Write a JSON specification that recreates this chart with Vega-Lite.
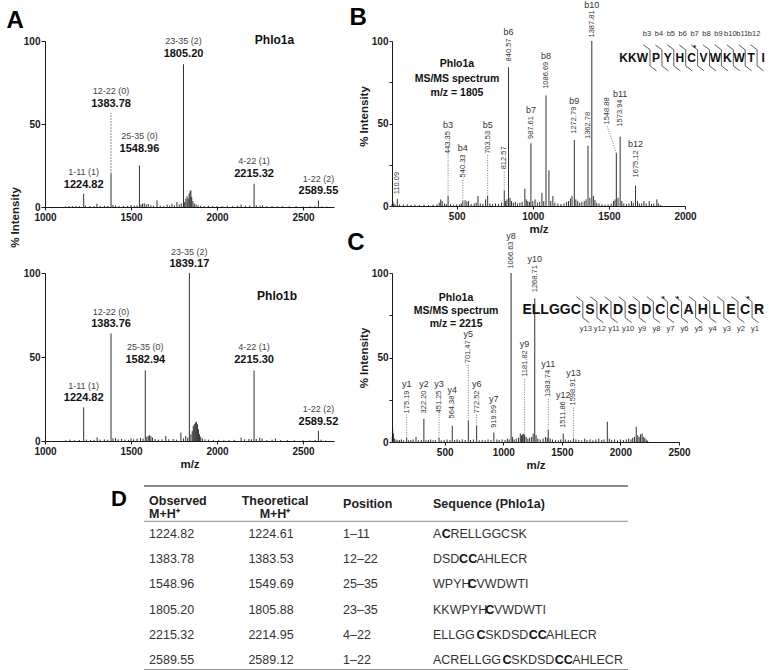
{
"$schema":"https://vega.github.io/schema/vega-lite/v6.json",
"padding":{"left":6,"top":0,"right":0,"bottom":0},
"background":"white",
"config":{
 "font":"Liberation Sans",
 "view":{"stroke":null},
 "axis":{"grid":false,"labelFontWeight":"bold","labelFontSize":10,"labelColor":"#1a1a1a","titleFontWeight":"bold","titleFontSize":11.5,"titleColor":"#1a1a1a","domainColor":"#1a1a1a","tickColor":"#1a1a1a","domainWidth":1,"labelPadding":2},
 "axisX":{"tickSize":3,"labelFlush":false,"titlePadding":2},
 "axisY":{"tickSize":4,"labelPadding":1}
},
"datasets":{
 "a1":[{"mz":1120,"i":0.4},{"mz":1140,"i":0.6},{"mz":1160,"i":0.5},{"mz":1180,"i":0.7},{"mz":1200,"i":0.5},{"mz":1224.82,"i":8},{"mz":1235,"i":0.8},{"mz":1260,"i":0.6},{"mz":1285,"i":0.5},{"mz":1302,"i":2},{"mz":1320,"i":0.6},{"mz":1345,"i":0.8},{"mz":1365,"i":0.7},{"mz":1383.78,"i":20},{"mz":1395,"i":1.2},{"mz":1410,"i":0.8},{"mz":1430,"i":0.6},{"mz":1455,"i":0.7},{"mz":1480,"i":0.6},{"mz":1500,"i":1.2},{"mz":1520,"i":0.8},{"mz":1535,"i":1},{"mz":1548.96,"i":25},{"mz":1558,"i":1.5},{"mz":1567,"i":2},{"mz":1577,"i":2.2},{"mz":1588,"i":1.5},{"mz":1600,"i":1.8},{"mz":1615,"i":1},{"mz":1630,"i":0.8},{"mz":1651,"i":4},{"mz":1670,"i":0.8},{"mz":1690,"i":0.6},{"mz":1710,"i":1.4},{"mz":1725,"i":0.8},{"mz":1738,"i":2},{"mz":1752,"i":1},{"mz":1767,"i":3},{"mz":1780,"i":1.5},{"mz":1792,"i":2.2},{"mz":1805.2,"i":86},{"mz":1812,"i":3},{"mz":1819,"i":5},{"mz":1826,"i":6.5},{"mz":1832,"i":5},{"mz":1838,"i":8},{"mz":1843,"i":9.5},{"mz":1848,"i":10},{"mz":1853,"i":6},{"mz":1860,"i":3.5},{"mz":1868,"i":2},{"mz":1878,"i":1.5},{"mz":1890,"i":1},{"mz":1905,"i":0.8},{"mz":1925,"i":0.6},{"mz":1950,"i":0.7},{"mz":1975,"i":0.5},{"mz":2000,"i":0.6},{"mz":2030,"i":0.5},{"mz":2060,"i":0.7},{"mz":2090,"i":0.5},{"mz":2120,"i":0.8},{"mz":2140,"i":1.5},{"mz":2165,"i":0.7},{"mz":2190,"i":0.9},{"mz":2215.32,"i":14},{"mz":2228,"i":1},{"mz":2250,"i":0.8},{"mz":2265,"i":1},{"mz":2290,"i":0.5},{"mz":2320,"i":0.6},{"mz":2350,"i":0.4},{"mz":2380,"i":0.5},{"mz":2420,"i":0.4},{"mz":2460,"i":0.5},{"mz":2500,"i":0.4},{"mz":2540,"i":0.4},{"mz":2570,"i":0.5},{"mz":2589.55,"i":4},{"mz":2610,"i":0.4},{"mz":2640,"i":0.3}],
 "a1l":[{"mz":1224.82,"i":8,"ly":8,"m":"1224.82","name":"1-11 (1)"},{"mz":1383.78,"i":20,"ly":56.7,"m":"1383.78","name":"12-22 (0)"},{"mz":1548.96,"i":25,"ly":29.6,"m":"1548.96","name":"25-35 (0)"},{"mz":1805.2,"i":86,"ly":86.9,"m":"1805.20","name":"23-35 (2)"},{"mz":2215.32,"i":14,"ly":14.6,"m":"2215.32","name":"4-22 (1)"},{"mz":2589.55,"i":4,"ly":4,"m":"2589.55","name":"1-22 (2)"}],
 "a2":[{"mz":1120,"i":0.4},{"mz":1145,"i":0.8},{"mz":1170,"i":0.5},{"mz":1200,"i":0.6},{"mz":1224.82,"i":20},{"mz":1240,"i":0.8},{"mz":1265,"i":0.6},{"mz":1285,"i":0.7},{"mz":1303,"i":2.2},{"mz":1320,"i":0.8},{"mz":1345,"i":1},{"mz":1365,"i":0.8},{"mz":1383.76,"i":64},{"mz":1395,"i":1.5},{"mz":1410,"i":1.8},{"mz":1425,"i":1},{"mz":1445,"i":1.2},{"mz":1465,"i":0.8},{"mz":1485,"i":0.7},{"mz":1500,"i":1.5},{"mz":1515,"i":1},{"mz":1535,"i":1.4},{"mz":1555,"i":1.8},{"mz":1570,"i":1.5},{"mz":1582.94,"i":42},{"mz":1592,"i":2.5},{"mz":1600,"i":3},{"mz":1608,"i":3.5},{"mz":1616,"i":2.8},{"mz":1625,"i":2},{"mz":1640,"i":1.2},{"mz":1660,"i":0.8},{"mz":1680,"i":1},{"mz":1702,"i":3},{"mz":1720,"i":1},{"mz":1745,"i":1.2},{"mz":1765,"i":0.8},{"mz":1790,"i":5},{"mz":1805,"i":1.5},{"mz":1818,"i":3},{"mz":1830,"i":2},{"mz":1839.17,"i":100},{"mz":1848,"i":4},{"mz":1856,"i":6},{"mz":1862,"i":9},{"mz":1868,"i":10},{"mz":1874,"i":11},{"mz":1880,"i":11.5},{"mz":1886,"i":10},{"mz":1892,"i":7},{"mz":1898,"i":4},{"mz":1905,"i":2.5},{"mz":1915,"i":1.5},{"mz":1930,"i":1},{"mz":1950,"i":0.8},{"mz":1980,"i":0.6},{"mz":2010,"i":0.7},{"mz":2040,"i":0.5},{"mz":2070,"i":0.6},{"mz":2100,"i":0.7},{"mz":2140,"i":2},{"mz":2160,"i":1},{"mz":2185,"i":1.2},{"mz":2200,"i":1},{"mz":2215.3,"i":42},{"mz":2228,"i":1.2},{"mz":2248,"i":2},{"mz":2262,"i":1.5},{"mz":2290,"i":0.6},{"mz":2320,"i":0.8},{"mz":2340,"i":1.5},{"mz":2370,"i":0.5},{"mz":2410,"i":0.5},{"mz":2450,"i":0.4},{"mz":2500,"i":0.5},{"mz":2540,"i":0.4},{"mz":2570,"i":0.6},{"mz":2589.52,"i":6},{"mz":2605,"i":0.8},{"mz":2630,"i":0.3}],
 "a2l":[{"mz":1224.82,"i":20,"ly":20,"m":"1224.82","name":"1-11 (1)"},{"mz":1383.76,"i":64,"ly":64,"m":"1383.76","name":"12-22 (0)"},{"mz":1582.94,"i":42,"ly":43,"m":"1582.94","name":"25-35 (0)"},{"mz":1839.17,"i":100,"ly":100,"m":"1839.17","name":"23-35 (2)"},{"mz":2215.3,"i":42,"ly":43,"m":"2215.30","name":"4-22 (1)"},{"mz":2589.52,"i":6,"ly":6,"m":"2589.52","name":"1-22 (2)"}],
 "b":[{"mz":75,"i":1},{"mz":80,"i":3},{"mz":86,"i":1.5},{"mz":95,"i":1},{"mz":110.09,"i":4.3},{"mz":125,"i":1},{"mz":150,"i":0.8},{"mz":175,"i":1},{"mz":200,"i":0.6},{"mz":225,"i":0.8},{"mz":255,"i":0.6},{"mz":285,"i":0.8},{"mz":315,"i":0.6},{"mz":345,"i":0.8},{"mz":370,"i":1},{"mz":385,"i":2},{"mz":395,"i":4},{"mz":405,"i":3},{"mz":420,"i":1.5},{"mz":432,"i":1.2},{"mz":443.35,"i":6},{"mz":460,"i":1.2},{"mz":480,"i":0.8},{"mz":500,"i":1},{"mz":520,"i":1.2},{"mz":530,"i":1.5},{"mz":540.33,"i":3},{"mz":555,"i":3.5},{"mz":567,"i":2.8},{"mz":578,"i":3},{"mz":595,"i":1.2},{"mz":615,"i":1.5},{"mz":628,"i":2},{"mz":640,"i":6},{"mz":655,"i":1.5},{"mz":672,"i":1.2},{"mz":690,"i":4},{"mz":703.53,"i":6},{"mz":718,"i":1.5},{"mz":735,"i":1.2},{"mz":755,"i":1.5},{"mz":775,"i":1.2},{"mz":795,"i":2},{"mz":812.57,"i":9.3},{"mz":820,"i":3},{"mz":830,"i":4},{"mz":840.57,"i":84},{"mz":850,"i":5},{"mz":860,"i":3},{"mz":872,"i":2},{"mz":885,"i":2.5},{"mz":900,"i":1.5},{"mz":915,"i":2},{"mz":930,"i":2.5},{"mz":948,"i":10.5},{"mz":957,"i":4},{"mz":967,"i":3},{"mz":978,"i":2.5},{"mz":987.61,"i":38},{"mz":1000,"i":3},{"mz":1015,"i":4},{"mz":1030,"i":2},{"mz":1045,"i":2.5},{"mz":1060,"i":8},{"mz":1072,"i":3},{"mz":1086.69,"i":67},{"mz":1106,"i":21.6},{"mz":1118,"i":3},{"mz":1132,"i":6},{"mz":1145,"i":2},{"mz":1165,"i":1.5},{"mz":1185,"i":1.2},{"mz":1205,"i":1.5},{"mz":1222,"i":2.5},{"mz":1235,"i":3},{"mz":1247,"i":4.5},{"mz":1258,"i":6},{"mz":1272.79,"i":40},{"mz":1283,"i":4},{"mz":1295,"i":3},{"mz":1308,"i":2},{"mz":1322,"i":2.5},{"mz":1338,"i":3},{"mz":1350,"i":4},{"mz":1362.78,"i":36.5},{"mz":1375,"i":5},{"mz":1387.81,"i":100},{"mz":1398,"i":6},{"mz":1408,"i":3.5},{"mz":1420,"i":2},{"mz":1435,"i":1.5},{"mz":1455,"i":1},{"mz":1475,"i":0.8},{"mz":1495,"i":1},{"mz":1515,"i":1.5},{"mz":1530,"i":3},{"mz":1540,"i":4},{"mz":1548.88,"i":32},{"mz":1560,"i":5},{"mz":1573.94,"i":42},{"mz":1585,"i":3},{"mz":1598,"i":1.5},{"mz":1615,"i":1.2},{"mz":1632,"i":1.5},{"mz":1648,"i":3},{"mz":1660,"i":2},{"mz":1675.12,"i":12.3},{"mz":1688,"i":3},{"mz":1700,"i":1.5},{"mz":1715,"i":1.5},{"mz":1730,"i":3},{"mz":1745,"i":1.5},{"mz":1765,"i":3},{"mz":1780,"i":1.2},{"mz":1795,"i":1.5},{"mz":1815,"i":4},{"mz":1825,"i":1.5},{"mz":1840,"i":0.6}],
 "bl":[{"mz":110.09,"i":4.3,"lx":110.09,"ly":6.5,"t":"110.09","ion":""},{"mz":443.35,"i":6,"lx":443.35,"ly":30.9,"t":"443.35","ion":"b3"},{"mz":540.33,"i":3,"lx":540.33,"ly":16.7,"t":"540.33","ion":"b4"},{"mz":703.53,"i":6,"lx":703.53,"ly":31,"t":"703.53","ion":"b5"},{"mz":812.57,"i":9.3,"lx":812.57,"ly":21.6,"t":"812.57","ion":""},{"mz":840.57,"i":84,"lx":840.57,"ly":87,"t":"840.57","ion":"b6"},{"mz":987.61,"i":38,"lx":987.61,"ly":40,"t":"987.61","ion":"b7"},{"mz":1086.69,"i":67,"lx":1086.69,"ly":70.4,"t":"1086.69","ion":"b8"},{"mz":1272.79,"i":40,"lx":1272.79,"ly":43.2,"t":"1272.79","ion":"b9"},{"mz":1362.78,"i":36.5,"lx":1362.78,"ly":40,"t":"1362.78","ion":""},{"mz":1387.81,"i":100,"lx":1387.81,"ly":101.5,"t":"1387.81","ion":"b10"},{"mz":1548.88,"i":32,"lx":1487,"ly":48.8,"t":"1548.88","ion":""},{"mz":1573.94,"i":42,"lx":1573.94,"ly":47.5,"t":"1573.94","ion":"b11"},{"mz":1675.12,"i":12.3,"lx":1675.12,"ly":16.7,"t":"1675.12","ion":"b12"}],
 "bseq":[{"n":4,"t":"P","s":0},{"n":5,"t":"Y","s":0},{"n":6,"t":"H","s":0},{"n":7,"t":"C","s":1},{"n":8,"t":"V","s":0},{"n":9,"t":"W","s":0},{"n":10,"t":"K","s":0},{"n":11,"t":"W","s":0},{"n":12,"t":"T","s":0},{"n":13,"t":"I","s":0}],
 "bbr":[{"k":3,"lab":"b3"},{"k":4,"lab":"b4"},{"k":5,"lab":"b5"},{"k":6,"lab":"b6"},{"k":7,"lab":"b7"},{"k":8,"lab":"b8"},{"k":9,"lab":"b9"},{"k":10,"lab":"b10"},{"k":11,"lab":"b11"},{"k":12,"lab":"b12"}],
 "bpre":[{"k":3,"t":"KKW"}],
 "c":[{"mz":52,"i":3},{"mz":56,"i":8},{"mz":62,"i":5},{"mz":70,"i":2},{"mz":85,"i":1.5},{"mz":100,"i":1},{"mz":115,"i":1.2},{"mz":130,"i":1.5},{"mz":150,"i":1},{"mz":175.19,"i":2.4},{"mz":190,"i":1},{"mz":210,"i":1.2},{"mz":230,"i":1.5},{"mz":255,"i":3},{"mz":275,"i":1},{"mz":300,"i":1.2},{"mz":322.2,"i":13.7},{"mz":340,"i":1},{"mz":360,"i":1.2},{"mz":380,"i":1.5},{"mz":400,"i":1},{"mz":420,"i":1.2},{"mz":451.25,"i":2.4},{"mz":470,"i":1},{"mz":495,"i":1.2},{"mz":520,"i":1.5},{"mz":545,"i":1.2},{"mz":564.38,"i":9.6},{"mz":585,"i":1.2},{"mz":605,"i":1.5},{"mz":625,"i":1},{"mz":650,"i":1.5},{"mz":675,"i":1.2},{"mz":701.47,"i":12.5},{"mz":720,"i":1.2},{"mz":745,"i":1.5},{"mz":772.52,"i":9.6},{"mz":795,"i":1},{"mz":820,"i":1.2},{"mz":845,"i":1},{"mz":870,"i":1.5},{"mz":895,"i":1.2},{"mz":919.59,"i":5.6},{"mz":945,"i":1.5},{"mz":965,"i":1.2},{"mz":990,"i":1.5},{"mz":1015,"i":1.2},{"mz":1035,"i":2},{"mz":1050,"i":1.5},{"mz":1066.63,"i":100},{"mz":1078,"i":3},{"mz":1092,"i":1.5},{"mz":1110,"i":2},{"mz":1130,"i":2.5},{"mz":1145,"i":5},{"mz":1155,"i":4},{"mz":1165,"i":4.5},{"mz":1175,"i":5},{"mz":1181.82,"i":4},{"mz":1195,"i":3},{"mz":1210,"i":2},{"mz":1225,"i":2.5},{"mz":1242,"i":3},{"mz":1255,"i":5},{"mz":1268.71,"i":85},{"mz":1280,"i":4},{"mz":1295,"i":2},{"mz":1315,"i":1.5},{"mz":1340,"i":2},{"mz":1360,"i":3},{"mz":1375,"i":2.5},{"mz":1383.74,"i":7},{"mz":1400,"i":2},{"mz":1420,"i":1.5},{"mz":1445,"i":1.2},{"mz":1470,"i":1},{"mz":1490,"i":1.5},{"mz":1511.86,"i":5},{"mz":1530,"i":1.5},{"mz":1555,"i":1.2},{"mz":1575,"i":1},{"mz":1598.91,"i":2},{"mz":1620,"i":1.5},{"mz":1645,"i":1.2},{"mz":1670,"i":1},{"mz":1695,"i":2},{"mz":1715,"i":1.2},{"mz":1740,"i":1.5},{"mz":1765,"i":1},{"mz":1790,"i":1.5},{"mz":1815,"i":2},{"mz":1840,"i":1.2},{"mz":1860,"i":1.5},{"mz":1888,"i":12},{"mz":1905,"i":2},{"mz":1925,"i":1.2},{"mz":1950,"i":1.5},{"mz":1975,"i":1},{"mz":2000,"i":1.5},{"mz":2025,"i":1.2},{"mz":2050,"i":1.5},{"mz":2070,"i":2},{"mz":2090,"i":1.5},{"mz":2105,"i":2.5},{"mz":2120,"i":3},{"mz":2135,"i":9},{"mz":2148,"i":4},{"mz":2160,"i":3},{"mz":2172,"i":4.5},{"mz":2185,"i":5},{"mz":2195,"i":3},{"mz":2208,"i":2.5},{"mz":2220,"i":1.5},{"mz":2232,"i":0.8}],
 "cl":[{"mz":175.19,"i":2.4,"lx":175.19,"ly":16.3,"t":"175.19","ion":"y1"},{"mz":322.2,"i":13.7,"lx":322.2,"ly":16.3,"t":"322.20","ion":"y2"},{"mz":451.25,"i":2.4,"lx":451.25,"ly":16.3,"t":"451.25","ion":"y3"},{"mz":564.38,"i":9.6,"lx":564.38,"ly":13.3,"t":"564.38","ion":"y4"},{"mz":701.47,"i":12.5,"lx":701.47,"ly":46,"t":"701.47","ion":"y5"},{"mz":772.52,"i":9.6,"lx":772.52,"ly":16.3,"t":"772.52","ion":"y6"},{"mz":919.59,"i":5.6,"lx":919.59,"ly":7.8,"t":"919.59","ion":"y7"},{"mz":1066.63,"i":100,"lx":1066.63,"ly":102,"t":"1066.63","ion":"y8"},{"mz":1181.82,"i":4,"lx":1181.82,"ly":38,"t":"1181.82","ion":"y9"},{"mz":1268.71,"i":85,"lx":1268.71,"ly":88,"t":"1268.71","ion":"y10"},{"mz":1383.74,"i":7,"lx":1383.74,"ly":26,"t":"1383.74","ion":"y11"},{"mz":1511.86,"i":5,"lx":1511.86,"ly":7.8,"t":"1511.86","ion":"y12"},{"mz":1598.91,"i":2,"lx":1598.91,"ly":21,"t":"1598.91","ion":"y13"}],
 "cseq":[{"n":7,"t":"S","s":0},{"n":8,"t":"K","s":0},{"n":9,"t":"D","s":0},{"n":10,"t":"S","s":0},{"n":11,"t":"D","s":0},{"n":12,"t":"C","s":1},{"n":13,"t":"C","s":1},{"n":14,"t":"A","s":0},{"n":15,"t":"H","s":0},{"n":16,"t":"L","s":0},{"n":17,"t":"E","s":0},{"n":18,"t":"C","s":1},{"n":19,"t":"R","s":0}],
 "cbr":[{"k":6,"lab":"y13"},{"k":7,"lab":"y12"},{"k":8,"lab":"y11"},{"k":9,"lab":"y10"},{"k":10,"lab":"y9"},{"k":11,"lab":"y8"},{"k":12,"lab":"y7"},{"k":13,"lab":"y6"},{"k":14,"lab":"y5"},{"k":15,"lab":"y4"},{"k":16,"lab":"y3"},{"k":17,"lab":"y2"},{"k":18,"lab":"y1"}],
 "cpre":[{"k":6,"t":"ELLGGC"}],
 "tbl":[{"r":1,"o":"1224.82","t":"1224.61","p":"1–11"},{"r":2,"o":"1383.78","t":"1383.53","p":"12–22"},{"r":3,"o":"1548.96","t":"1549.69","p":"25–35"},{"r":4,"o":"1805.20","t":"1805.88","p":"23–35"},{"r":5,"o":"2215.32","t":"2214.95","p":"4–22"},{"r":6,"o":"2589.55","t":"2589.12","p":"1–22"}],
 "tseq":[{"r":1,"s":0,"t":"A","b":0},{"r":1,"s":1,"t":"C","b":1},{"r":1,"s":2,"t":"RELLGGCSK","b":0},{"r":2,"s":0,"t":"DSD","b":0},{"r":2,"s":3,"t":"CC","b":1},{"r":2,"s":5,"t":"AHLECR","b":0},{"r":3,"s":0,"t":"WPYH","b":0},{"r":3,"s":4,"t":"C","b":1},{"r":3,"s":5,"t":"VWDWTI","b":0},{"r":4,"s":0,"t":"KKWPYH","b":0},{"r":4,"s":6,"t":"C","b":1},{"r":4,"s":7,"t":"VWDWTI","b":0},{"r":5,"s":0,"t":"ELLGG","b":0},{"r":5,"s":5,"t":"C","b":1},{"r":5,"s":6,"t":"SKDSD","b":0},{"r":5,"s":11,"t":"CC","b":1},{"r":5,"s":13,"t":"AHLECR","b":0},{"r":6,"s":0,"t":"ACRELLGG","b":0},{"r":6,"s":8,"t":"C","b":1},{"r":6,"s":9,"t":"SKDSD","b":0},{"r":6,"s":14,"t":"CC","b":1},{"r":6,"s":16,"t":"AHLECR","b":0}]
},
"columns":2,
"align":"none",
"bounds":"flush",
"spacing":{"row":66,"column":58},
"concat":[
   {"width":289,"height":166,"layer":[
    {"data":{"name":"a1"},"mark":{"type":"rule","color":"#1a1a1a","strokeWidth":0.9},"encoding":{"x":{"field":"mz","type":"quantitative","scale":{"domain":[1000,2680],"nice":false,"zero":false},"axis":{"values":[1000,1500,2000,2500],"format":"d","title":null}},"y":{"field":"i","type":"quantitative","scale":{"domain":[0,100],"nice":false,"zero":false},"axis":{"values":[0,50,100],"format":"d","title":"% Intensity","titleX":-25,"titleY":176}},"y2":{"datum":0}}},
    {"data":{"name":"a1l"},"transform":[{"filter":"datum.ly - datum.i > 8"}],"mark":{"type":"rule","color":"#444","strokeWidth":0.8,"strokeDash":[1.5,1.5]},"encoding":{"x":{"field":"mz","type":"quantitative","scale":{"domain":[1000,2680],"nice":false,"zero":false}},"y":{"field":"i","type":"quantitative","scale":{"domain":[0,100],"nice":false,"zero":false}},"y2":{"field":"ly"}}},
    {"data":{"name":"a1l"},"mark":{"type":"text","fontWeight":"bold","fontSize":11,"baseline":"alphabetic","dy":-6,"color":"#111"},"encoding":{"x":{"field":"mz","type":"quantitative","scale":{"domain":[1000,2680],"nice":false,"zero":false}},"y":{"field":"ly","type":"quantitative","scale":{"domain":[0,100],"nice":false,"zero":false}},"text":{"field":"m"}}},
    {"data":{"name":"a1l"},"mark":{"type":"text","fontSize":9,"baseline":"alphabetic","dy":-18.5,"color":"#444"},"encoding":{"x":{"field":"mz","type":"quantitative","scale":{"domain":[1000,2680],"nice":false,"zero":false}},"y":{"field":"ly","type":"quantitative","scale":{"domain":[0,100],"nice":false,"zero":false}},"text":{"field":"name"}}},
    {"data":{"values":[{}]},"mark":{"type":"text","text":"Phlo1a","fontWeight":"bold","fontSize":12,"baseline":"middle","color":"#111"},"encoding":{"x":{"datum":2334,"type":"quantitative","scale":{"domain":[1000,2680],"nice":false,"zero":false}},"y":{"datum":100.6,"type":"quantitative","scale":{"domain":[0,100],"nice":false,"zero":false}}}},
    {"data":{"values":[{}]},"mark":{"type":"text","text":"A","fontWeight":"bold","fontSize":24,"baseline":"middle","color":"#000"},"encoding":{"x":{"datum":826,"type":"quantitative","scale":{"domain":[1000,2680],"nice":false,"zero":false}},"y":{"datum":112,"type":"quantitative","scale":{"domain":[0,100],"nice":false,"zero":false}}}}
   ]},
   {"width":293,"height":165,"resolve":{"scale":{"x":"independent"}},"layer":[
    {"layer":[
     {"data":{"name":"b"},"mark":{"type":"rule","color":"#1a1a1a","strokeWidth":0.9},"encoding":{"x":{"field":"mz","type":"quantitative","scale":{"domain":[75,2000],"nice":false,"zero":false},"axis":{"values":[500,1000,1500,2000],"format":"d","title":"m/z"}},"y":{"field":"i","type":"quantitative","scale":{"domain":[0,100],"nice":false,"zero":false},"axis":{"values":[0,12.5,25,37.5,50,62.5,75,87.5,100],"labelExpr":"datum.value % 50 === 0 ? datum.value : ''","title":"% Intensity","titleX":-23,"titleY":75,"tickSize":3}},"y2":{"datum":0}}},
     {"data":{"name":"bl"},"transform":[{"filter":"datum.ly - datum.i > 6"}],"mark":{"type":"rule","color":"#555","strokeWidth":0.8,"strokeDash":[1,1.5]},"encoding":{"x":{"field":"mz","type":"quantitative","scale":{"domain":[75,2000],"nice":false,"zero":false}},"y":{"field":"i","type":"quantitative","scale":{"domain":[0,100],"nice":false,"zero":false}},"x2":{"field":"lx"},"y2":{"field":"ly"}}},
     {"data":{"name":"bl"},"mark":{"type":"text","angle":270,"align":"left","baseline":"middle","fontSize":7.5,"dx":1,"color":"#333"},"encoding":{"x":{"field":"lx","type":"quantitative","scale":{"domain":[75,2000],"nice":false,"zero":false}},"y":{"field":"ly","type":"quantitative","scale":{"domain":[0,100],"nice":false,"zero":false}},"text":{"field":"t"}}},
     {"data":{"name":"bl"},"transform":[{"filter":"datum.ion != '' && datum.mz < 1000"}],"mark":{"type":"text","baseline":"middle","fontSize":9,"dy":-30,"color":"#333"},"encoding":{"x":{"field":"lx","type":"quantitative","scale":{"domain":[75,2000],"nice":false,"zero":false}},"y":{"field":"ly","type":"quantitative","scale":{"domain":[0,100],"nice":false,"zero":false}},"text":{"field":"ion"}}},
     {"data":{"name":"bl"},"transform":[{"filter":"datum.ion != '' && datum.mz >= 1000"}],"mark":{"type":"text","baseline":"middle","fontSize":9,"dy":-34,"color":"#333"},"encoding":{"x":{"field":"lx","type":"quantitative","scale":{"domain":[75,2000],"nice":false,"zero":false}},"y":{"field":"ly","type":"quantitative","scale":{"domain":[0,100],"nice":false,"zero":false}},"text":{"field":"ion"}}},
     {"data":{"values":[{}]},"mark":{"type":"text","text":"Phlo1a\nMS/MS spectrum\nm/z = 1805","lineBreak":"\n","lineHeight":14.5,"fontWeight":"bold","fontSize":10.5,"align":"center","baseline":"middle","color":"#111"},"encoding":{"x":{"datum":502,"type":"quantitative","scale":{"domain":[75,2000],"nice":false,"zero":false}},"y":{"datum":85.8,"type":"quantitative","scale":{"domain":[0,100],"nice":false,"zero":false}}}},
     {"data":{"values":[{}]},"mark":{"type":"text","text":"B","fontWeight":"bold","fontSize":24,"baseline":"middle","color":"#000"},"encoding":{"x":{"datum":-148,"type":"quantitative","scale":{"domain":[75,2000],"nice":false,"zero":false}},"y":{"datum":114.2,"type":"quantitative","scale":{"domain":[0,100],"nice":false,"zero":false}}}}
    ]},
    {"layer":[
     {"data":{"name":"bseq"},"mark":{"type":"text","fontWeight":"bold","fontSize":12,"align":"center","baseline":"middle","color":"#111"},"encoding":{"x":{"field":"n","type":"quantitative","scale":{"domain":[-18.18,6.44],"nice":false,"zero":false},"axis":null},"y":{"datum":89.8,"type":"quantitative","scale":{"domain":[0,100],"nice":false,"zero":false}},"text":{"field":"t"}}},
     {"data":{"name":"bseq"},"transform":[{"filter":"datum.s == 1"}],"mark":{"type":"text","text":"*","fontWeight":"bold","fontSize":8,"align":"center","baseline":"middle","dx":3,"dy":-10,"color":"#111"},"encoding":{"x":{"field":"n","type":"quantitative","scale":{"domain":[-18.18,6.44],"nice":false,"zero":false},"axis":null},"y":{"datum":89.8,"type":"quantitative","scale":{"domain":[0,100],"nice":false,"zero":false}}}}
    ]},
    {"layer":[
     {"data":{"name":"bbr"},"mark":{"type":"point","shape":"M-0.5,-1L0,-0.62L0,0.62L0.5,1","filled":false,"color":"#333","strokeWidth":0.8,"size":676,"opacity":1},"encoding":{"x":{"field":"k","type":"quantitative","scale":{"domain":[-18.68,5.94],"nice":false,"zero":false},"axis":null},"y":{"datum":89.8,"type":"quantitative","scale":{"domain":[0,100],"nice":false,"zero":false}}}},
     {"data":{"name":"bbr"},"mark":{"type":"text","fontSize":7.5,"align":"center","baseline":"middle","dx":-3,"color":"#333"},"encoding":{"x":{"field":"k","type":"quantitative","scale":{"domain":[-18.68,5.94],"nice":false,"zero":false},"axis":null},"y":{"datum":104.3,"type":"quantitative","scale":{"domain":[0,100],"nice":false,"zero":false}},"text":{"field":"lab"}}},
     {"data":{"name":"bpre"},"mark":{"type":"text","fontWeight":"bold","fontSize":12,"align":"right","baseline":"middle","dx":-2,"color":"#111"},"encoding":{"x":{"field":"k","type":"quantitative","scale":{"domain":[-18.68,5.94],"nice":false,"zero":false},"axis":null},"y":{"datum":89.8,"type":"quantitative","scale":{"domain":[0,100],"nice":false,"zero":false}},"text":{"field":"t"}}}
    ]}
   ]},
   {"width":289,"height":168,"layer":[
    {"data":{"name":"a2"},"mark":{"type":"rule","color":"#1a1a1a","strokeWidth":0.9},"encoding":{"x":{"field":"mz","type":"quantitative","scale":{"domain":[1000,2680],"nice":false,"zero":false},"axis":{"values":[1000,1500,2000,2500],"format":"d","title":"m/z"}},"y":{"field":"i","type":"quantitative","scale":{"domain":[0,100],"nice":false,"zero":false},"axis":{"values":[0,50,100],"format":"d","title":null}},"y2":{"datum":0}}},
    {"data":{"name":"a2l"},"mark":{"type":"text","fontWeight":"bold","fontSize":11,"baseline":"alphabetic","dy":-6,"color":"#111"},"encoding":{"x":{"field":"mz","type":"quantitative","scale":{"domain":[1000,2680],"nice":false,"zero":false}},"y":{"field":"ly","type":"quantitative","scale":{"domain":[0,100],"nice":false,"zero":false}},"text":{"field":"m"}}},
    {"data":{"name":"a2l"},"mark":{"type":"text","fontSize":9,"baseline":"alphabetic","dy":-18.5,"color":"#444"},"encoding":{"x":{"field":"mz","type":"quantitative","scale":{"domain":[1000,2680],"nice":false,"zero":false}},"y":{"field":"ly","type":"quantitative","scale":{"domain":[0,100],"nice":false,"zero":false}},"text":{"field":"name"}}},
    {"data":{"values":[{}]},"mark":{"type":"text","text":"Phlo1b","fontWeight":"bold","fontSize":12,"baseline":"middle","color":"#111"},"encoding":{"x":{"datum":2349,"type":"quantitative","scale":{"domain":[1000,2680],"nice":false,"zero":false}},"y":{"datum":86.3,"type":"quantitative","scale":{"domain":[0,100],"nice":false,"zero":false}}}}
   ]},
   {"width":287,"height":169,"resolve":{"scale":{"x":"independent"}},"layer":[
    {"layer":[
     {"data":{"name":"c"},"mark":{"type":"rule","color":"#1a1a1a","strokeWidth":0.9},"encoding":{"x":{"field":"mz","type":"quantitative","scale":{"domain":[50,2500],"nice":false,"zero":false},"axis":{"values":[500,1000,1500,2000,2500],"format":"d","title":"m/z"}},"y":{"field":"i","type":"quantitative","scale":{"domain":[0,100],"nice":false,"zero":false},"axis":{"values":[0,12.5,25,37.5,50,62.5,75,87.5,100],"labelExpr":"datum.value % 50 === 0 ? datum.value : ''","title":"% Intensity","titleX":-23,"tickSize":3}},"y2":{"datum":0}}},
     {"data":{"name":"cl"},"transform":[{"filter":"datum.ly - datum.i > 6"}],"mark":{"type":"rule","color":"#555","strokeWidth":0.8,"strokeDash":[1,1.5]},"encoding":{"x":{"field":"mz","type":"quantitative","scale":{"domain":[50,2500],"nice":false,"zero":false}},"y":{"field":"i","type":"quantitative","scale":{"domain":[0,100],"nice":false,"zero":false}},"x2":{"field":"lx"},"y2":{"field":"ly"}}},
     {"data":{"name":"cl"},"mark":{"type":"text","angle":270,"align":"left","baseline":"middle","fontSize":7.5,"dx":1,"color":"#333"},"encoding":{"x":{"field":"lx","type":"quantitative","scale":{"domain":[50,2500],"nice":false,"zero":false}},"y":{"field":"ly","type":"quantitative","scale":{"domain":[0,100],"nice":false,"zero":false}},"text":{"field":"t"}}},
     {"data":{"name":"cl"},"transform":[{"filter":"datum.mz < 1000"}],"mark":{"type":"text","baseline":"middle","fontSize":9,"dy":-30,"color":"#333"},"encoding":{"x":{"field":"lx","type":"quantitative","scale":{"domain":[50,2500],"nice":false,"zero":false}},"y":{"field":"ly","type":"quantitative","scale":{"domain":[0,100],"nice":false,"zero":false}},"text":{"field":"ion"}}},
     {"data":{"name":"cl"},"transform":[{"filter":"datum.mz >= 1000"}],"mark":{"type":"text","baseline":"middle","fontSize":9,"dy":-34,"color":"#333"},"encoding":{"x":{"field":"lx","type":"quantitative","scale":{"domain":[50,2500],"nice":false,"zero":false}},"y":{"field":"ly","type":"quantitative","scale":{"domain":[0,100],"nice":false,"zero":false}},"text":{"field":"ion"}}},
     {"data":{"values":[{}]},"mark":{"type":"text","text":"Phlo1a\nMS/MS spectrum\nm/z = 2215","lineBreak":"\n","lineHeight":13,"fontWeight":"bold","fontSize":10.5,"align":"center","baseline":"middle","color":"#111"},"encoding":{"x":{"datum":597,"type":"quantitative","scale":{"domain":[50,2500],"nice":false,"zero":false}},"y":{"datum":85.5,"type":"quantitative","scale":{"domain":[0,100],"nice":false,"zero":false}}}},
     {"data":{"values":[{}]},"mark":{"type":"text","text":"C","fontWeight":"bold","fontSize":24,"baseline":"middle","color":"#000"},"encoding":{"x":{"datum":-257.7,"type":"quantitative","scale":{"domain":[50,2500],"nice":false,"zero":false}},"y":{"datum":117.5,"type":"quantitative","scale":{"domain":[0,100],"nice":false,"zero":false}}}}
    ]},
    {"layer":[
     {"data":{"name":"cseq"},"mark":{"type":"text","fontWeight":"bold","fontSize":14,"align":"center","baseline":"middle","color":"#111"},"encoding":{"x":{"field":"n","type":"quantitative","scale":{"domain":[-7.03,13.32],"nice":false,"zero":false},"axis":null},"y":{"datum":78.3,"type":"quantitative","scale":{"domain":[0,100],"nice":false,"zero":false}},"text":{"field":"t"}}},
     {"data":{"name":"cseq"},"transform":[{"filter":"datum.s == 1"}],"mark":{"type":"text","text":"*","fontWeight":"bold","fontSize":8,"align":"center","baseline":"middle","dx":3,"dy":-11,"color":"#111"},"encoding":{"x":{"field":"n","type":"quantitative","scale":{"domain":[-7.03,13.32],"nice":false,"zero":false},"axis":null},"y":{"datum":78.3,"type":"quantitative","scale":{"domain":[0,100],"nice":false,"zero":false}}}}
    ]},
    {"layer":[
     {"data":{"name":"cbr"},"mark":{"type":"point","shape":"M-0.5,-1L0,-0.62L0,0.62L0.5,1","filled":false,"color":"#333","strokeWidth":0.8,"size":676,"opacity":1},"encoding":{"x":{"field":"k","type":"quantitative","scale":{"domain":[-7.53,12.82],"nice":false,"zero":false},"axis":null},"y":{"datum":78.3,"type":"quantitative","scale":{"domain":[0,100],"nice":false,"zero":false}}}},
     {"data":{"name":"cbr"},"mark":{"type":"text","fontSize":7.5,"align":"center","baseline":"middle","dx":3,"color":"#333"},"encoding":{"x":{"field":"k","type":"quantitative","scale":{"domain":[-7.53,12.82],"nice":false,"zero":false},"axis":null},"y":{"datum":66.8,"type":"quantitative","scale":{"domain":[0,100],"nice":false,"zero":false}},"text":{"field":"lab"}}},
     {"data":{"name":"cpre"},"mark":{"type":"text","fontWeight":"bold","fontSize":14,"align":"right","baseline":"middle","dx":-2,"color":"#111"},"encoding":{"x":{"field":"k","type":"quantitative","scale":{"domain":[-7.53,12.82],"nice":false,"zero":false},"axis":null},"y":{"datum":78.3,"type":"quantitative","scale":{"domain":[0,100],"nice":false,"zero":false}},"text":{"field":"t"}}}
    ]}
   ]},
   {"width":289,"height":162,"layer":[
    {"data":{"values":[{}]},"mark":{"type":"rule","color":"#8c8c8c","strokeWidth":1.8},"encoding":{"x":{"datum":-33.22,"type":"quantitative","scale":{"domain":[-44.6,-11.38],"nice":false,"zero":false},"axis":null},"x2":{"datum":22.41},"y":{"datum":-0.885,"type":"quantitative","scale":{"domain":[-0.0154,6.388],"nice":false,"zero":false,"reverse":true},"axis":null}}},
    {"data":{"values":[{}]},"mark":{"type":"rule","color":"#8c8c8c","strokeWidth":1},"encoding":{"x":{"datum":-33.22,"type":"quantitative","scale":{"domain":[-44.6,-11.38],"nice":false,"zero":false},"axis":null},"x2":{"datum":22.41},"y":{"datum":0.51,"type":"quantitative","scale":{"domain":[-0.0154,6.388],"nice":false,"zero":false,"reverse":true},"axis":null}}},
    {"data":{"values":[{}]},"mark":{"type":"rule","color":"#8c8c8c","strokeWidth":1.8},"encoding":{"x":{"datum":-33.22,"type":"quantitative","scale":{"domain":[-44.6,-11.38],"nice":false,"zero":false},"axis":null},"x2":{"datum":22.41},"y":{"datum":6.388,"type":"quantitative","scale":{"domain":[-0.0154,6.388],"nice":false,"zero":false,"reverse":true},"axis":null}}},
    {"data":{"values":[{}]},"mark":{"type":"text","text":"Observed\nM+H\u207a","lineBreak":"\n","lineHeight":12.6,"fontWeight":"bold","fontSize":12.5,"align":"left","baseline":"middle","color":"#222"},"encoding":{"x":{"datum":-32.64,"type":"quantitative","scale":{"domain":[-44.6,-11.38],"nice":false,"zero":false},"axis":null},"y":{"datum":-0.29,"type":"quantitative","scale":{"domain":[-0.0154,6.388],"nice":false,"zero":false,"reverse":true},"axis":null}}},
    {"data":{"values":[{}]},"mark":{"type":"text","text":"Theoretical\nM+H\u207a","lineBreak":"\n","lineHeight":12.6,"fontWeight":"bold","fontSize":12.5,"align":"center","baseline":"middle","color":"#222"},"encoding":{"x":{"datum":-18.16,"type":"quantitative","scale":{"domain":[-44.6,-11.38],"nice":false,"zero":false},"axis":null},"y":{"datum":-0.29,"type":"quantitative","scale":{"domain":[-0.0154,6.388],"nice":false,"zero":false,"reverse":true},"axis":null}}},
    {"data":{"values":[{}]},"mark":{"type":"text","text":"Position","fontWeight":"bold","fontSize":12.5,"align":"left","baseline":"middle","color":"#222"},"encoding":{"x":{"datum":-10.34,"type":"quantitative","scale":{"domain":[-44.6,-11.38],"nice":false,"zero":false},"axis":null},"y":{"datum":-0.18,"type":"quantitative","scale":{"domain":[-0.0154,6.388],"nice":false,"zero":false,"reverse":true},"axis":null}}},
    {"data":{"values":[{}]},"mark":{"type":"text","text":"Sequence (Phlo1a)","fontWeight":"bold","fontSize":12.5,"align":"left","baseline":"middle","color":"#222"},"encoding":{"x":{"datum":0,"type":"quantitative","scale":{"domain":[-44.6,-11.38],"nice":false,"zero":false},"axis":null},"y":{"datum":-0.18,"type":"quantitative","scale":{"domain":[-0.0154,6.388],"nice":false,"zero":false,"reverse":true},"axis":null}}},
    {"data":{"name":"tbl"},"mark":{"type":"text","fontSize":12.5,"align":"left","baseline":"middle","color":"#333"},"encoding":{"x":{"datum":-32.64,"type":"quantitative","scale":{"domain":[-44.6,-11.38],"nice":false,"zero":false},"axis":null},"y":{"field":"r","type":"quantitative","scale":{"domain":[-0.0154,6.388],"nice":false,"zero":false,"reverse":true},"axis":null},"text":{"field":"o"}}},
    {"data":{"name":"tbl"},"mark":{"type":"text","fontSize":12.5,"align":"center","baseline":"middle","color":"#333"},"encoding":{"x":{"datum":-18.62,"type":"quantitative","scale":{"domain":[-44.6,-11.38],"nice":false,"zero":false},"axis":null},"y":{"field":"r","type":"quantitative","scale":{"domain":[-0.0154,6.388],"nice":false,"zero":false,"reverse":true},"axis":null},"text":{"field":"t"}}},
    {"data":{"name":"tbl"},"mark":{"type":"text","fontSize":12.5,"align":"left","baseline":"middle","color":"#333"},"encoding":{"x":{"datum":-10.34,"type":"quantitative","scale":{"domain":[-44.6,-11.38],"nice":false,"zero":false},"axis":null},"y":{"field":"r","type":"quantitative","scale":{"domain":[-0.0154,6.388],"nice":false,"zero":false,"reverse":true},"axis":null},"text":{"field":"p"}}},
    {"data":{"name":"tseq"},"transform":[{"filter":"datum.b == 0"}],"mark":{"type":"text","fontSize":12.5,"align":"left","baseline":"middle","color":"#333"},"encoding":{"x":{"field":"s","type":"quantitative","scale":{"domain":[-44.6,-11.38],"nice":false,"zero":false},"axis":null},"y":{"field":"r","type":"quantitative","scale":{"domain":[-0.0154,6.388],"nice":false,"zero":false,"reverse":true},"axis":null},"text":{"field":"t"}}},
    {"data":{"name":"tseq"},"transform":[{"filter":"datum.b == 1"}],"mark":{"type":"text","fontSize":12.5,"fontWeight":"bold","align":"left","baseline":"middle","color":"#111"},"encoding":{"x":{"field":"s","type":"quantitative","scale":{"domain":[-44.6,-11.38],"nice":false,"zero":false},"axis":null},"y":{"field":"r","type":"quantitative","scale":{"domain":[-0.0154,6.388],"nice":false,"zero":false,"reverse":true},"axis":null},"text":{"field":"t"}}},
    {"data":{"values":[{}]},"mark":{"type":"text","text":"D","fontWeight":"bold","fontSize":22,"align":"center","baseline":"middle","color":"#000"},"encoding":{"x":{"datum":-36.09,"type":"quantitative","scale":{"domain":[-44.6,-11.38],"nice":false,"zero":false},"axis":null},"y":{"datum":-0.371,"type":"quantitative","scale":{"domain":[-0.0154,6.388],"nice":false,"zero":false,"reverse":true},"axis":null}}}
   ]}
]
}
